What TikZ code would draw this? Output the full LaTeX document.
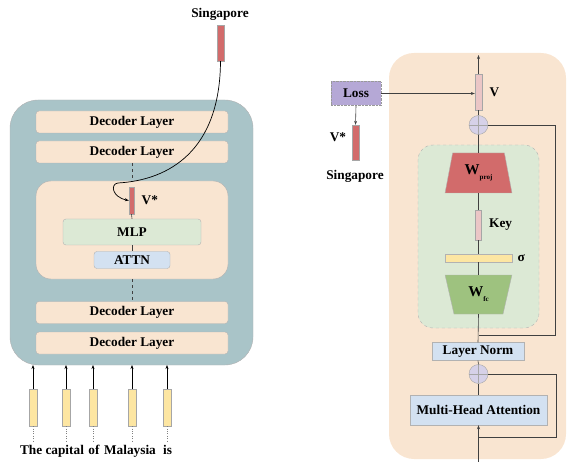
\documentclass[tikz,border=0pt]{standalone}
\usepackage{fontspec}
\setmainfont{Liberation Serif}
\usepackage{xcolor}
\usetikzlibrary{arrows.meta, positioning, shapes.geometric, calc}

\definecolor{slate}{HTML}{A9C4C8}
\definecolor{peach}{HTML}{F9E5D1}
\definecolor{mintbg}{HTML}{DCE9D5}
\definecolor{skyblue}{HTML}{D3E1F1}
\definecolor{brick}{HTML}{D26B6B}
\definecolor{rosebar}{HTML}{EBC6C6}
\definecolor{sand}{HTML}{FDE6A2}
\definecolor{lilac}{HTML}{B5A8D6}
\definecolor{lilaclight}{HTML}{D6D1E8}
\definecolor{leaf}{HTML}{9EC27F}

\tikzset{
  every node/.style={font=\fontsize{13.3}{15}\selectfont\bfseries},
  layerbox/.style={draw=gray!60, fill=peach, rounded corners=3pt, minimum width=192pt, minimum height=22pt, inner sep=0pt},
  tokbar/.style={draw=gray!70, fill=sand, minimum width=8pt, minimum height=37pt, inner sep=0pt},
  redbar/.style={draw=gray!70, fill=brick, inner sep=0pt},
  pinkbar/.style={draw=gray!70, fill=rosebar, inner sep=0pt},
  plusnode/.style={circle, draw=gray!70, fill=lilaclight, minimum size=19pt, inner sep=0pt,
    path picture={\draw[gray!70] (path picture bounding box.north) -- (path picture bounding box.south)
      (path picture bounding box.west) -- (path picture bounding box.east);}},
  wire/.style={draw=gray!50!black, line width=0.6pt},
  tip/.style={-{Stealth[length=4pt, width=3pt]}},
  word/.style={anchor=base},
}

\begin{document}
\begin{tikzpicture}[x=1pt, y=-1pt]
  \useasboundingbox (0,0) rectangle (567,462);

  % left: decoder stack
  \node[draw=gray!60, fill=slate, rounded corners=28pt, minimum width=243pt, minimum height=265pt] (stack) at (131.5,232.5) {};
  \node[layerbox] (dec1) at (132,122) {Decoder Layer};
  \node[layerbox] (dec2) at (132,152) {Decoder Layer};
  \node[layerbox, rounded corners=15pt, minimum height=98pt] (blk) at (132,230) {};
  \node[layerbox] (dec3) at (132,312.5) {Decoder Layer};
  \node[layerbox] (dec4) at (132,343) {Decoder Layer};
  \node[draw=gray!60, fill=mintbg, rounded corners=3pt, minimum width=138pt, minimum height=26pt, inner sep=0pt] (mlp) at (132,232) {MLP};
  \node[draw=gray!60, fill=skyblue, rounded corners=3pt, minimum width=76pt, minimum height=17pt, inner sep=0pt] (attn) at (132,260) {ATTN};
  \node[redbar, minimum width=5pt, minimum height=27pt] (vstar) at (131.5,200.5) {};
  \node[right=4pt of vstar] {V*};

  \draw[wire, dashed] (dec2.south) -- (blk.north);
  \draw[wire, dashed] (blk.south) -- (dec3.north);
  \draw[wire] (vstar.south) -- (mlp.north);
  \draw[wire] (mlp.south) -- (attn.north);

  % target token
  \node[redbar, minimum width=7pt, minimum height=36pt] (sgbar) at (220.5,43) {};
  \node (sglabel) at (220,14) {Singapore};
  \draw[black, line width=0.7pt, tip] (sgbar.south) .. controls (220,150) and (170,180) .. (118,183)
    .. controls (110,184) and (112,197) .. (vstar.west);

  % input tokens
  \foreach \n/\x in {t1/33, t2/66, t3/93, t4/132, t5/167} {
    \node[tokbar] (\n) at (\x,407.5) {};
    \coordinate (\n top) at (\x,365);
    \coordinate (\n end) at (\x,441);
    \draw[black, line width=0.6pt, tip] (\n.north) -- (\n top);
    \draw[gray, dotted] (\n.south) -- (\n end);
  }
  \node[word] (w1) at (52,454) {The capital};
  \node[word] (w2) at (94,454) {of};
  \node[word] (w3) at (130,454) {Malaysia};
  \node[word] (w4) at (167.5,454) {is};

  % right: MLP block in detail
  \node[fill=peach, rounded corners=25pt, minimum width=177pt, minimum height=406pt] (panel) at (477.5,256) {};
  \node[draw=gray!60, dashed, fill=mintbg, rounded corners=15pt, minimum width=121pt, minimum height=183pt] (inner) at (478.5,236.5) {};

  \node[pinkbar, minimum width=7pt, minimum height=36pt] (vbar) at (478.5,92) {};
  \node[right=4pt of vbar] {V};
  \coordinate (out) at (478.5,55);
  \node[plusnode] (add1) at (478.5,125) {};
  \node[trapezium, trapezium angle=76, trapezium stretches=true, draw=gray!60, fill=brick,
    minimum width=67pt, minimum height=40pt, inner sep=0pt] (wproj) at (478.5,173)
    {{\fontsize{15}{16}\selectfont W}\raisebox{-5pt}{\fontsize{7}{8}\selectfont proj}};
  \node[pinkbar, minimum width=6pt, minimum height=30pt] (key) at (478.5,225) {};
  \node[right=4pt of key] {Key};
  \node[draw=gray!60, fill=sand, minimum width=67pt, minimum height=8pt, inner sep=0pt] (sig) at (478.5,258) {};
  \node[right=2pt of sig] {σ};
  \node[trapezium, trapezium angle=76, trapezium stretches=true, shape border rotate=180, draw=gray!60, fill=leaf,
    minimum width=67pt, minimum height=39pt, inner sep=0pt] (wfc) at (478.5,294.5)
    {{\fontsize{15}{16}\selectfont W}\raisebox{-5pt}{\fontsize{7}{8}\selectfont fc}};
  \node[draw=gray!60, fill=skyblue, minimum width=92pt, minimum height=18pt, inner sep=0pt] (ln) at (478,351.5) {Layer Norm};
  \node[plusnode] (add2) at (478.5,374) {};
  \node[draw=gray!60, fill=skyblue, minimum width=137pt, minimum height=30pt, inner sep=0pt] (mha) at (478.5,410) {Multi-Head Attention};
  \coordinate (in) at (478.5,462);

  % spine
  \draw[wire, tip] (in) -- (mha.south);
  \draw[wire] (mha.north) -- (add2.south);
  \draw[wire] (add2.north) -- (ln.south);
  \draw[wire] (ln.north) -- (wfc.south);
  \draw[wire] (wfc.north) -- (sig.south);
  \draw[wire] (sig.north) -- (key.south);
  \draw[wire] (key.north) -- (wproj.south);
  \draw[wire] (wproj.north) -- (add1.south);
  \draw[wire] (add1.north) -- (vbar.south);
  \draw[wire, tip] (vbar.north) -- (out);

  % residuals
  \coordinate (r1a) at (555,125);
  \coordinate (r1b) at (555,335);
  \coordinate (r1c) at (478.5,335);
  \draw[wire] (add1.east) -- (r1a) -- (r1b) -- (r1c);
  \coordinate (r2a) at (556,374);
  \coordinate (r2b) at (556,437);
  \coordinate (r2c) at (478.5,437);
  \draw[wire] (add2.east) -- (r2a) -- (r2b) -- (r2c);

  % loss
  \node[draw=gray!80, densely dotted, fill=lilac, minimum width=50pt, minimum height=24pt, inner sep=0pt] (loss) at (356,93.5) {Loss};
  \node[redbar, minimum width=7pt, minimum height=35pt] (vtarget) at (355.5,142.5) {};
  \node (vtlabel) at (338,137) {V*};
  \node (sglabel2) at (355,176) {Singapore};
  \draw[wire, tip] (loss.east) -- (vbar.west |- loss.east);
  \draw[wire, tip] (loss.south) -- (vtarget.north);
\end{tikzpicture}
\end{document}
